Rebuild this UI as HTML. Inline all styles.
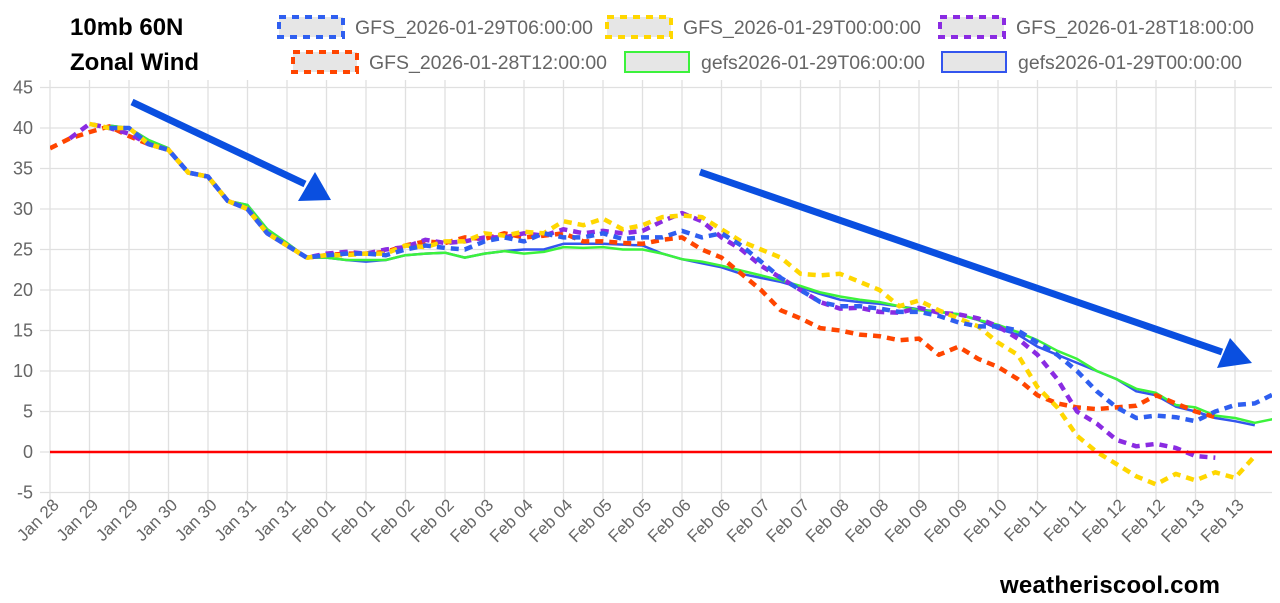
<!DOCTYPE html>
<html><head><meta charset="utf-8"><style>
html,body{margin:0;padding:0;background:#fff;}
svg{display:block;font-family:"Liberation Sans",sans-serif;}
</style></head><body>
<svg id="chart" width="1280" height="603" viewBox="0 0 1280 603" xmlns="http://www.w3.org/2000/svg">
<g font-weight="bold" font-size="24" fill="#000">
<text x="70" y="35">10mb 60N</text>
<text x="70" y="70">Zonal Wind</text>
</g>
<g id="legend"></g>
<g id="grid"></g>
<g id="yaxis"></g>
<g id="xaxis"></g>
<defs><clipPath id="plotclip"><rect x="50" y="80" width="1222" height="420"/></clipPath></defs>
<g id="series" clip-path="url(#plotclip)"></g>
<line id="zero" stroke="#ff0000" stroke-width="2.5"/>
<g fill="#0a4fe0" stroke="#0a4fe0">
<line x1="132" y1="102" x2="305" y2="184" stroke-width="7"/>
<polygon points="298,201 331,200 315,172" stroke="none"/>
<line x1="700" y1="172" x2="1222" y2="352" stroke-width="7"/>
<polygon points="1217,368 1252,363 1230,338" stroke="none"/>
</g>
<text x="1000" y="593" font-size="24" font-weight="bold" fill="#000" textLength="220">weatheriscool.com</text>
</svg>
<script>
const xLabels = ["Jan 28","Jan 29","Jan 29","Jan 30","Jan 30","Jan 31","Jan 31","Feb 01","Feb 01","Feb 02","Feb 02","Feb 03","Feb 04","Feb 04","Feb 05","Feb 05","Feb 06","Feb 06","Feb 07","Feb 07","Feb 08","Feb 08","Feb 09","Feb 09","Feb 10","Feb 11","Feb 11","Feb 12","Feb 12","Feb 13","Feb 13"];
const yTicks = [45,40,35,30,25,20,15,10,5,0,-5];
const seriesNames = ["GFS_2026-01-29T06:00:00","GFS_2026-01-29T00:00:00","GFS_2026-01-28T18:00:00","GFS_2026-01-28T12:00:00","gefs2026-01-29T06:00:00","gefs2026-01-29T00:00:00"];
const gfs29T06 = [null,null,null,40,40,38,37.3,34.5,34,31,30,27,25.5,24,24.3,
24.5,24.5,24.3,25,25.5,25.2,25,26,26.5,26,27,26.5,26.5,27,26.3,26.5,26.5,27.3,26.5,27,25.5,23.5,21.5,20,18.5,18,18,17.7,17.3,17.3,16.8,16,15.5,15.5,15,13.5,12,10,7.5,5.5,4.2,4.5,4.3,3.8,5,5.8,6,7.2];
const gfs29T00 = [null,null,40.5,40,40,38,37.3,34.5,34,31,30,27,25.5,24,24.3,
24.3,24.5,24.5,25.5,25.3,26,26,27,26.7,27.2,27,28.5,28,28.8,27.5,28,29,29.2,29,27.5,26,25,24,22,21.8,22,21,20,18,18.7,17.5,16.5,15.5,13.5,12,8,5.5,2,0,-1.5,-3,-4,-2.7,-3.5,-2.5,-3.2,-0.5,null];
const gfs28T18 = [null,38.7,40.5,40,39.3,38,37.3,34.5,34,31,30,27,25.5,24,24.5,
24.7,24.5,25,25.3,26.2,25.8,26,26.5,26.5,27,26.7,27.5,27,27.3,27,27.3,28.5,29.5,28.5,26.5,25,23,21.5,20,18.5,17.7,17.8,17.3,17.2,17.8,17.2,17,16.5,15.5,14,12,9,5,3.5,1.5,0.7,1,0.5,-0.5,-0.7,null,null,null];
const gfs28T12 = [37.5,38.7,39.5,40.2,39,38,37.3,34.5,34,31,30,27,25.5,24,24.3,
24.5,24.5,24.7,25.5,26,25.8,26.5,26.3,27,26.5,26.7,27,26,26,25.8,25.7,26.2,26.5,25,24,22,20,17.5,16.5,15.3,15,14.5,14.3,13.8,14,12,13,11.5,10.5,9,7,6,5.5,5.3,5.5,5.7,7,6,5,4.3,null,null,null];
const gefs29T06 = [null,null,null,40.3,40,38.5,37.5,34.5,34,31,30.5,27.5,25.8,24,24,
23.7,23.7,23.7,24.3,24.5,24.6,24,24.5,24.8,24.5,24.7,25.3,25.2,25.3,25,25,24.5,23.8,23.5,23,22.4,21.8,21.2,20.5,19.7,19.2,18.8,18.5,18,17.5,17.3,17,16.3,15.7,14.8,13.8,12.5,11.5,10,9,7.8,7.3,5.8,5.5,4.5,4.2,3.6,4.1];
const gefs29T00 = [null,null,null,40.3,40,38.5,37.5,34.5,34,31,30.5,27.5,25.8,24,24,
23.7,23.5,23.7,24.3,24.5,24.6,24,24.5,24.8,25,25,25.7,25.7,25.7,25.6,25.5,24.5,23.8,23.3,22.8,22,21.5,21,20.3,19.5,18.8,18.5,18.3,18,17.6,17.3,17,16.3,15.2,14.5,13,12,11,10,9,7.5,7,5.6,5,4.2,3.8,3.3,null];

const NS="http://www.w3.org/2000/svg";
const X0=50, DX=39.5, STEP=0.5;
function xPos(u){return X0+u*DX;}
function yPos(v){return 452 - v*8.1;}
function mk(tag,attrs,parent){const e=document.createElementNS(NS,tag);for(const k in attrs)e.setAttribute(k,attrs[k]);parent.appendChild(e);return e;}

const grid=document.getElementById('grid'), yaxis=document.getElementById('yaxis'), xaxis=document.getElementById('xaxis');
yTicks.forEach(v=>{
  const l=mk('line',{x1:40,x2:1272,y1:yPos(v),y2:yPos(v),stroke:'#e0e0e0','stroke-width':1.3},grid);
  
  
  const t=mk('text',{x:33,y:yPos(v)+6,'text-anchor':'end','font-size':18,fill:'#666'},yaxis);
  t.textContent=v;
  
  
});
xLabels.forEach((s,i)=>{
  const x=xPos(i);
  const l=mk('line',{x1:x,x2:x,y1:80,y2:500,stroke:'#e0e0e0','stroke-width':1.3},grid);
  
  
  const ax=x+10, ay=506;
  const t=mk('text',{x:ax,y:ay,'text-anchor':'end','font-size':17,fill:'#666',transform:`rotate(-45 ${ax} ${ay})`},xaxis);
  t.textContent=s;
  
  
});
const z=document.getElementById('zero');
z.setAttribute('x1',50);z.setAttribute('x2',1272);z.setAttribute('y1',yPos(0));z.setAttribute('y2',yPos(0));

const styles=[
 {data:gfs29T06,color:'#2f5ff0',dash:true},
 {data:gfs29T00,color:'#ffd700',dash:true},
 {data:gfs28T18,color:'#8a2be2',dash:true},
 {data:gfs28T12,color:'#ff4500',dash:true},
 {data:gefs29T06,color:'#3cf23c',dash:false},
 {data:gefs29T00,color:'#3355ee',dash:false}
];
const sg=document.getElementById('series');
const order=[5,4,3,2,1,0];
order.forEach(k=>{
  const s=styles[k];
  let d='',pen=false;
  s.data.forEach((v,i)=>{
    if(v===null){pen=false;return;}
    d+=(pen?'L':'M')+xPos(i*STEP).toFixed(1)+' '+yPos(v).toFixed(1)+' ';pen=true;
  });
  const p=mk('path',{d:d,fill:'none',stroke:s.color,'stroke-width':s.dash?4.5:2.5,'stroke-dasharray':s.dash?'8 6':'none','stroke-linejoin':'round'},sg);
  
  
});

const lg=document.getElementById('legend');
const lpos=[[279,17],[607,17],[940,17],[293,52],[625,52],[942,52]];
styles.forEach((s,k)=>{
  const [x,y]=lpos[k];
  const r=mk('rect',{x:x,y:y,width:64,height:20,fill:'#e6e6e6',stroke:s.color,'stroke-width':s.dash?4:2,'stroke-dasharray':s.dash?'7 6':'none'},lg);
  
  
  const t=mk('text',{x:x+76,y:y+17,'font-size':19,fill:'#666',textLength:(s.dash?238:224),lengthAdjust:'spacingAndGlyphs'},lg);
  t.textContent=seriesNames[k];
  
  
});
</script>
</body></html>
